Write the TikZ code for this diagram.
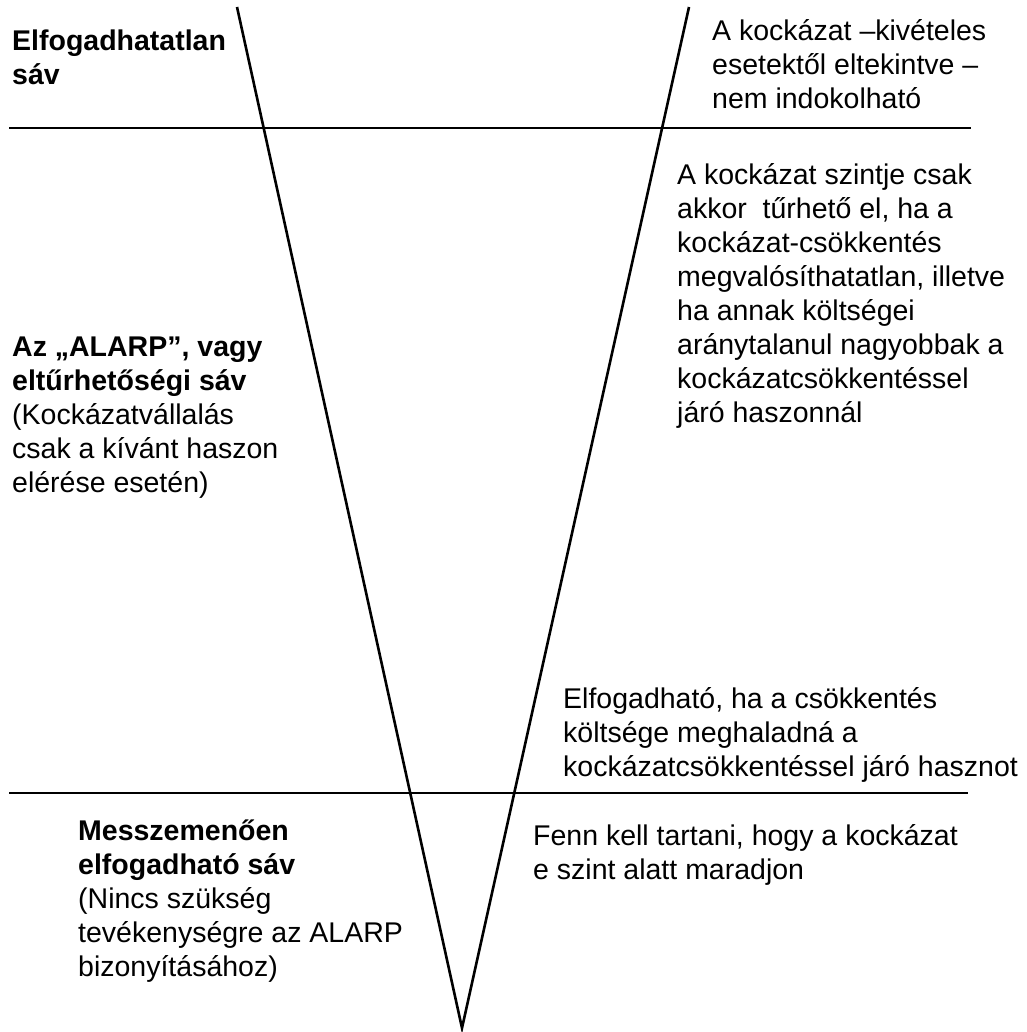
\documentclass[tikz,border=0pt]{standalone}
\usepackage{fontspec}
\setmainfont{Liberation Sans}
\begin{document}
\begin{tikzpicture}[x=1pt,y=-1pt,
  band/.style={line width=2.2pt,black},
  vee/.style={line width=2.6pt,black},
  txt/.style={anchor=north west,align=left,inner sep=0pt,
    font=\fontsize{28.5}{34}\selectfont}]
\useasboundingbox (0,0) rectangle (1026,1032);
% the funnel
\coordinate (tl) at (237,7);
\coordinate (tr) at (689,7);
\coordinate (tip) at (462,1028);
\draw[vee] (tl) -- (tip) -- (tr);
% band limits
\coordinate (h1a) at (9,128);
\coordinate (h1b) at (971,128);
\coordinate (h2a) at (9,793);
\coordinate (h2b) at (968,793);
\draw[band] (h1a) -- (h1b);
\draw[band] (h2a) -- (h2b);
% left side: band names (each block hangs from a strut, top = first baseline - 23.8)
\node[txt] (unacc) at (12,26.2) {\strut\textbf{Elfogadhatatlan}\\\textbf{sáv}};
\node[txt] (alarp) at (12,332.2) {\strut\textbf{Az „ALARP”, vagy}\\\textbf{eltűrhetőségi sáv}\\(Kockázatvállalás\\csak a kívánt haszon\\elérése esetén)};
\node[txt] (broad) at (78,816.2) {\strut\textbf{Messzemenően}\\\textbf{elfogadható sáv}\\(Nincs szükség\\tevékenységre az ALARP\\bizonyításához)};
% right side: explanations
\node[txt] (r1) at (712,16.2) {\strut A kockázat –kivételes\\esetektől eltekintve –\\nem indokolható};
\node[txt] (r2) at (677,160.2) {\strut A kockázat szintje csak\\akkor\ \ tűrhető el, ha a\\kockázat-csökkentés\\megvalósíthatatlan, illetve\\ha annak költségei\\aránytalanul nagyobbak a\\kockázatcsökkentéssel\\járó haszonnál};
\node[txt] (r3) at (563,684.2) {\strut Elfogadható, ha a csökkentés\\költsége meghaladná a\\kockázatcsökkentéssel járó hasznot};
\node[txt] (r4) at (533,821.2) {\strut Fenn kell tartani, hogy a kockázat\\e szint alatt maradjon};
\end{tikzpicture}
\end{document}
